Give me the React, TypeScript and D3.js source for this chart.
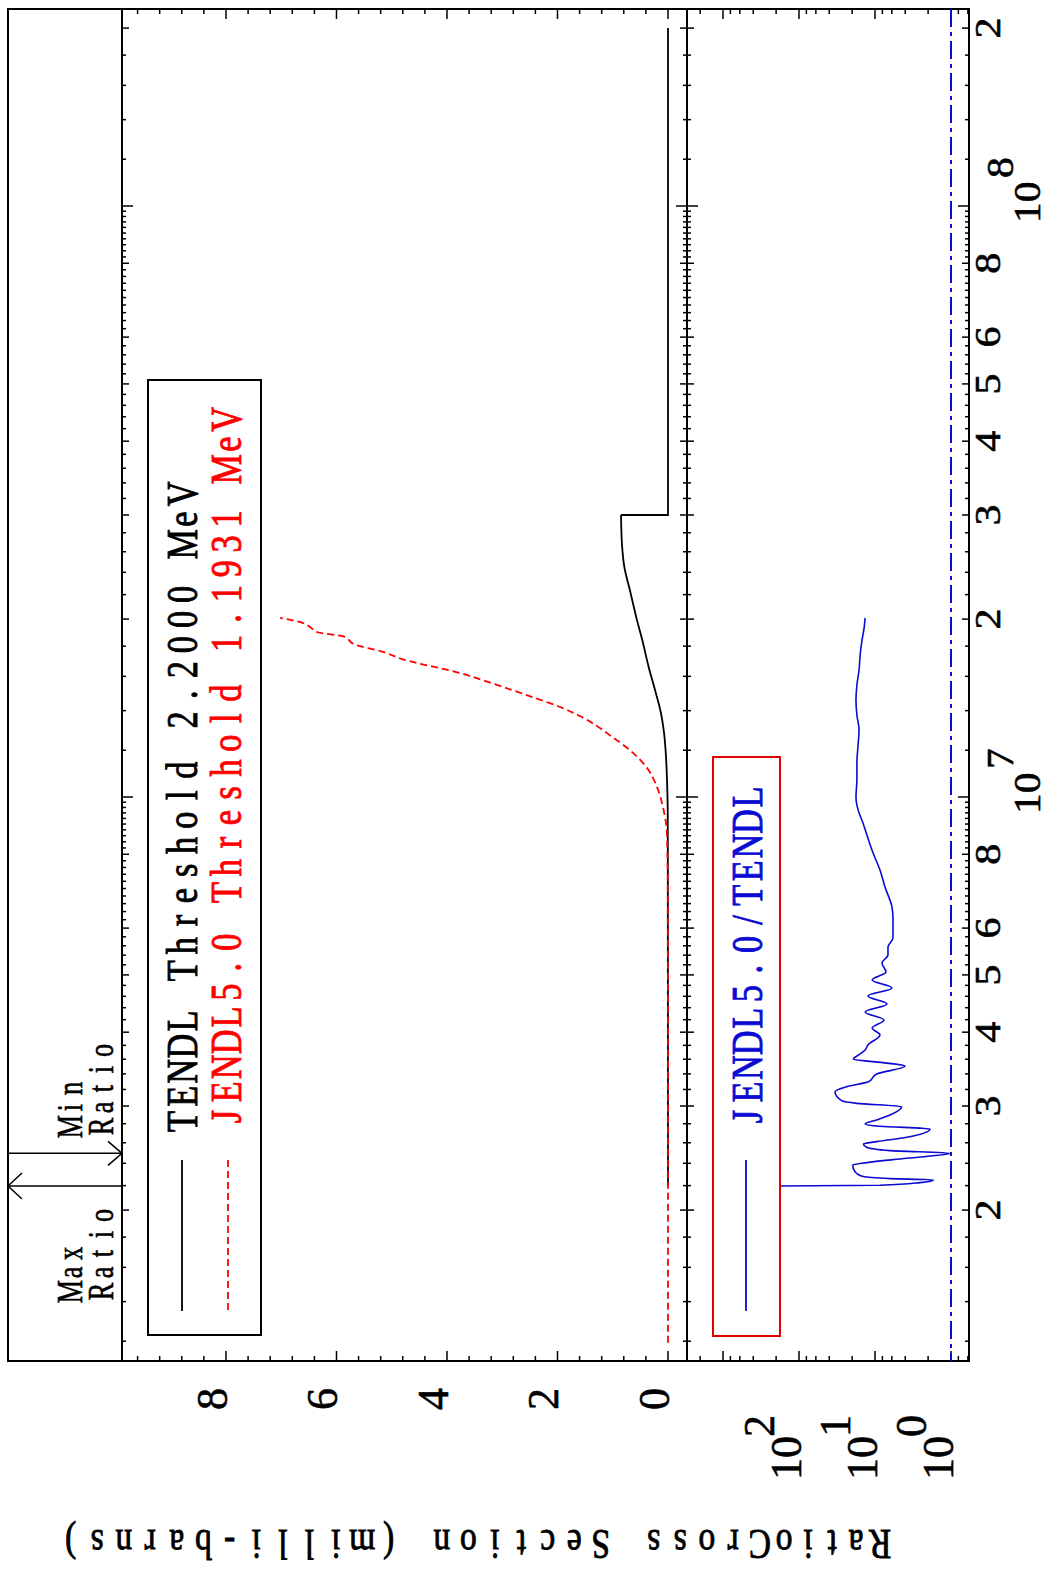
import * as d3 from "d3";

// TENDL cross section (milli-barns) vs neutron energy (eV)
const tendlEnergy = [2.2e6, 3e6, 5e6, 8e6, 9.4e6, 1.07e7, 1.17e7, 1.28e7, 1.39e7, 1.5e7, 1.66e7, 1.85e7, 1.99e7, 2.24e7, 2.45e7, 2.65e7, 2.85e7, 3.0e7];
const tendlXs = [0.0, 0.001, 0.002, 0.003, 0.005, 0.018, 0.036, 0.07, 0.13, 0.22, 0.35, 0.47, 0.56, 0.69, 0.79, 0.83, 0.845, 0.85];
// above 30 MeV TENDL drops to zero
const tendlTailEnergy = [3.0e7, 3.0e7, 2.0e8];
const tendlTailXs = [0.85, 0, 0];

// JENDL5.0
const jendlEnergy = [1.1931e6, 3e6, 7.2e6, 8.7e6, 9.6e6, 1.04e7, 1.12e7, 1.2e7, 1.26e7, 1.37e7, 1.42e7, 1.47e7, 1.52e7, 1.57e7, 1.62e7, 1.71e7, 1.76e7, 1.81e7, 1.87e7, 1.9e7, 1.94e7, 1.97e7, 2.01e7];
const jendlXs = [0.0, 0.0, 0.005, 0.02, 0.09, 0.2, 0.38, 0.69, 0.99, 1.59, 1.95, 2.4, 2.85, 3.3, 3.75, 4.8, 5.16, 5.66, 5.88, 6.34, 6.48, 6.61, 7.02];

// JENDL5.0 / TENDL
const ratioEnergy = [
  2.197e6, 2.203e6, 2.226e6, 2.249e6, 2.261e6, 2.279e6, 2.323e6, 2.384e6, 2.406e6, 2.447e6,
  2.495e6, 2.521e6, 2.554e6, 2.588e6, 2.611e6, 2.656e6, 2.743e6, 2.773e6, 2.798e6, 2.842e6,
  2.897e6, 2.992e6, 3.031e6, 3.063e6, 3.172e6, 3.235e6, 3.298e6, 3.398e6, 3.505e6, 3.566e6,
  3.598e6, 3.674e6, 3.731e6, 3.805e6, 3.956e6, 4.065e6, 4.194e6, 4.327e6, 4.464e6, 4.605e6,
  4.751e6, 4.902e6, 5.057e6, 5.237e6, 5.404e6, 5.575e6, 5.773e6, 5.957e6, 6.242e6, 6.515e6,
  7.044e6, 7.524e6, 8.04e6, 8.52e6, 9.04e6, 9.51e6, 1.0e7, 1.069e7, 1.142e7, 1.225e7,
  1.298e7, 1.376e7, 1.459e7, 1.547e7, 1.64e7, 1.739e7, 1.844e7, 1.932e7, 2.009e7,
];
const ratioValue = [
  180, 8.6, 2.56, 1.71, 6.35, 14.2, 18.3, 19.7, 12.9, 3.83,
  1.03, 6.35, 12.9, 14.2, 9.5, 3.83, 1.89, 8.6, 13.5, 9.5,
  6.35, 4.46, 17.4, 27.5, 33.6, 23.6, 12.2, 9.5, 4.03, 10.5,
  19.3, 15.7, 13.5, 12.4, 8.6, 10.9, 7.6, 13.5, 6.95, 12.4,
  5.98, 10.9, 7.17, 8.09, 6.75, 6.75, 5.8, 5.8, 5.8, 5.98,
  7.39, 8.6, 10.6, 12.4, 14.4, 16.7, 17.8, 17.3, 17.3, 16.7,
  16.2, 17.3, 17.8, 17.3, 16.2, 15.7, 14.8, 13.9, 13.5,
];

const energyMantissaLabels = [2, 3, 4, 5, 6, 8];
const energyDecadeLabels = [7, 8];
const xsTickLabels = [0, 2, 4, 6, 8];
const ratioDecadeLabels = [0, 1, 2];

const maxRatioEnergy = 2.197e6;
const minRatioEnergy = 2.495e6;

const W = 1048;
const H = 1573;
const frame = { left: 8, top: 9, right: 969, bottom: 1361 };
const xsLeft = 122;
const divider = 687;
const serif = "'Liberation Serif', 'DejaVu Serif', 'Times New Roman', serif";
const blue = "#0a0ad2";

function RotText({ x, y, children, size, fill = "#000", anchor = "start", angle = -90, sx = 1, sy = 1 }: any) {
  return (
    <text
      transform={`translate(${x},${y}) rotate(${angle}) scale(${sx},${sy})`}
      fontSize={size}
      fontFamily={serif}
      fill={fill}
      stroke={fill}
      strokeWidth={0.6}
      textAnchor={anchor}
    >
      {children}
    </text>
  );
}

// fixed-pitch text built from a serif font, one cell per character
function MonoText({ x, y, text, size, adv, fill = "#000", angle = -90, sx = 1, sy = 1, anchor = "start", weight = 0.9 }: any) {
  const n = text.length;
  const off = anchor === "start" ? 0 : anchor === "end" ? -n * adv : (-n * adv) / 2;
  return (
    <g
      transform={`translate(${x},${y}) rotate(${angle})`}
      fill={fill}
      stroke={fill}
      strokeWidth={weight}
      fontFamily={serif}
      fontSize={size}
    >
      {text.split("").map((c: string, i: number) =>
        c === " " ? null : (
          <text key={i} transform={`translate(${off + (i + 0.5) * adv},0) scale(${sx},${sy})`} textAnchor="middle">
            {c}
          </text>
        )
      )}
    </g>
  );
}

export default function App() {
  const eDom = [1.1109e6, 2.1544e8];
  const eY = d3.scaleLog().domain(eDom).range([frame.bottom, frame.top]);
  const xsX = d3.scaleLinear().domain([9.882, -0.344]).range([xsLeft, divider]);
  const rX = d3.scaleLog().domain([2977, 0.5796]).range([divider, frame.right]);

  const xsSmooth = d3
    .line<[number, number]>()
    .x((d) => xsX(d[1]))
    .y((d) => eY(d[0]))
    .curve(d3.curveMonotoneY);
  const xsLinear = d3
    .line<[number, number]>()
    .x((d) => xsX(d[1]))
    .y((d) => eY(d[0]));
  const ratioLine = d3
    .line<[number, number]>()
    .x((d) => rX(d[1]))
    .y((d) => eY(d[0]))
    .curve(d3.curveMonotoneY);

  // energy ticks every 0.2 of the decade
  const energyTicks: { e: number; kind: number }[] = [];
  [6, 7, 8].forEach((k) => {
    d3.range(5, 50).forEach((i) => {
      const e = (i / 5) * Math.pow(10, k);
      if (e < eDom[0] || e > eDom[1]) return;
      const kind = i === 5 ? 2 : [10, 15, 20, 25, 30, 40].includes(i) ? 1 : 0;
      energyTicks.push({ e, kind });
    });
  });
  const eLen = [4, 7, 11];

  const xsTicks = d3.range(0, 25).map((i) => ({ v: i * 0.4, major: i % 5 === 0 }));

  const ratioTicks: { r: number; major: boolean }[] = [];
  [-1, 0, 1, 2, 3].forEach((k) => {
    [1, 2, 4, 6, 8].forEach((m) => {
      const r = m * Math.pow(10, k);
      const x = rX(r);
      if (x < divider + 1 || x > frame.right - 1) return;
      ratioTicks.push({ r, major: m === 1 });
    });
  });

  const energyLabels: { e: number; m: number }[] = [];
  [6, 7, 8].forEach((k) =>
    energyMantissaLabels.forEach((m) => {
      const e = m * Math.pow(10, k);
      if (e >= eDom[0] && e <= eDom[1]) energyLabels.push({ e, m });
    })
  );

  const yMax = eY(maxRatioEnergy);
  const yMin = eY(minRatioEnergy);

  return (
    <svg width={W} height={H} style={{ position: "absolute", left: 0, top: 0, background: "#fff" }}>
      <defs>
        <clipPath id="ratioClip">
          <rect x={divider} y={frame.top} width={frame.right - divider} height={frame.bottom - frame.top} />
        </clipPath>
      </defs>
      <rect x={0} y={0} width={W} height={H} fill="#fff" />

      {/* frame */}
      <rect
        x={frame.left}
        y={frame.top}
        width={frame.right - frame.left}
        height={frame.bottom - frame.top}
        fill="none"
        stroke="#000"
        strokeWidth={2}
      />
      <line x1={xsLeft} x2={xsLeft} y1={frame.top} y2={frame.bottom} stroke="#000" strokeWidth={2} />
      <line x1={divider} x2={divider} y1={frame.top} y2={frame.bottom} stroke="#000" strokeWidth={2} />

      {/* cross-section ticks on top and bottom edges */}
      {xsTicks.map((t, i) => {
        const x = xsX(t.v);
        const l = t.major ? 10 : 5;
        return (
          <g key={`xs-${i}`} stroke="#000" strokeWidth={1.5}>
            <line x1={x} x2={x} y1={frame.top} y2={frame.top + l} />
            <line x1={x} x2={x} y1={frame.bottom} y2={frame.bottom - l} />
          </g>
        );
      })}

      {/* ratio ticks */}
      {ratioTicks.map((t, i) => {
        const x = rX(t.r);
        const l = t.major ? 10 : 5;
        return (
          <g key={`rt-${i}`} stroke="#000" strokeWidth={1.5}>
            <line x1={x} x2={x} y1={frame.top} y2={frame.top + l} />
            <line x1={x} x2={x} y1={frame.bottom} y2={frame.bottom - l} />
          </g>
        );
      })}

      {/* energy ticks */}
      {energyTicks.map((t, i) => {
        const y = eY(t.e);
        const l = eLen[t.kind];
        return (
          <g key={`et-${i}`} stroke="#000" strokeWidth={1.5}>
            <line x1={xsLeft} x2={xsLeft + l} y1={y} y2={y} />
            <line x1={divider - l} x2={divider + l} y1={y} y2={y} />
            <line x1={frame.right - l} x2={frame.right} y1={y} y2={y} />
          </g>
        );
      })}

      {/* ratio = 1 reference */}
      <line
        x1={rX(1)}
        x2={rX(1)}
        y1={frame.top}
        y2={frame.bottom}
        stroke={blue}
        strokeWidth={2}
        strokeDasharray="18 5 4 5"
      />

      {/* curves */}
      <path
        d={xsSmooth(d3.zip(tendlEnergy, tendlXs) as [number, number][]) || ""}
        fill="none"
        stroke="#000"
        strokeWidth={1.8}
      />
      <path
        d={xsLinear(d3.zip(tendlTailEnergy, tendlTailXs) as [number, number][]) || ""}
        fill="none"
        stroke="#000"
        strokeWidth={1.8}
      />
      <path
        d={xsSmooth(d3.zip(jendlEnergy, jendlXs) as [number, number][]) || ""}
        fill="none"
        stroke="#ff0000"
        strokeWidth={1.8}
        strokeDasharray="7 4"
      />
      <path
        clipPath="url(#ratioClip)"
        d={ratioLine(d3.zip(ratioEnergy, ratioValue) as [number, number][]) || ""}
        fill="none"
        stroke={blue}
        strokeWidth={1.6}
      />

      {/* legend: cross sections */}
      <rect x={148} y={380} width={113} height={955} fill="#fff" stroke="#000" strokeWidth={2} />
      <line x1={182} x2={182} y1={1160} y2={1311} stroke="#000" strokeWidth={1.8} />
      <line x1={228} x2={228} y1={1160} y2={1311} stroke="#ff0000" strokeWidth={1.8} strokeDasharray="7 4" />
      <MonoText x={197} y={1134} text="TENDL Threshold 2.2000 MeV" size={44} adv={25.1} sx={0.78} />
      <MonoText x={241} y={1129} text="JENDL5.0 Threshold 1.1931 MeV" size={44} adv={24.9} sx={0.78} fill="#ff0000" />

      {/* legend: ratio */}
      <rect x={713} y={757} width={67} height={579} fill="#fff" stroke="#e00000" strokeWidth={2} />
      <line x1={746} x2={746} y1={1160} y2={1311} stroke={blue} strokeWidth={1.8} />
      <MonoText x={762} y={1129} text="JENDL5.0/TENDL" size={44} adv={24.6} sx={0.78} fill={blue} />

      {/* max / min ratio markers */}
      <g stroke="#000" strokeWidth={1.5} fill="none">
        <line x1={frame.left} x2={xsLeft} y1={yMin} y2={yMin} />
        <polyline points={`${xsLeft - 14},${yMin - 12} ${xsLeft},${yMin} ${xsLeft - 14},${yMin + 12}`} />
        <line x1={frame.left} x2={xsLeft} y1={yMax} y2={yMax} />
        <polyline points={`${frame.left + 14},${yMax - 13} ${frame.left},${yMax} ${frame.left + 14},${yMax + 13}`} />
      </g>
      <MonoText x={82} y={1136} text="Min" size={35} adv={19} sx={0.75} weight={0.6} />
      <MonoText x={113} y={1136} text="Ratio" size={35} adv={19} sx={0.75} weight={0.6} />
      <MonoText x={82} y={1301} text="Max" size={35} adv={19} sx={0.75} weight={0.6} />
      <MonoText x={113} y={1301} text="Ratio" size={35} adv={19} sx={0.75} weight={0.6} />

      {/* cross-section tick labels */}
      {xsTickLabels.map((v) => (
        <RotText key={`xl-${v}`} x={xsX(v) + 1} y={1388} size={44} anchor="end">
          {v}
        </RotText>
      ))}

      {/* ratio tick labels */}
      {ratioDecadeLabels.map((k) => {
        const x = rX(Math.pow(10, k));
        return (
          <g key={`rl-${k}`}>
            <RotText x={x + 2} y={1480} size={44}>10</RotText>
            <RotText x={x - 25} y={1437} size={44}>{k}</RotText>
          </g>
        );
      })}

      {/* energy tick labels */}
      {energyLabels.map((d, i) => (
        <RotText key={`el-${i}`} x={1000} y={eY(d.e)} size={35} sx={1.2} anchor="middle">
          {d.m}
        </RotText>
      ))}
      {energyDecadeLabels.map((k) => {
        const y = eY(Math.pow(10, k));
        return (
          <g key={`ed-${k}`}>
            <RotText x={1040} y={y + 17} size={37} sx={1.12}>10</RotText>
            <RotText x={1013} y={y - 28} size={37} sx={1.12}>{k}</RotText>
          </g>
        );
      })}

      {/* axis titles */}
      <MonoText x={892} y={1530} text="Ratio" size={42} adv={24} sx={0.8} angle={180} />
      <MonoText x={773} y={1530} text="Cross Section (milli-barns)" size={42} adv={26.5} sx={0.8} angle={180} />
    </svg>
  );
}
